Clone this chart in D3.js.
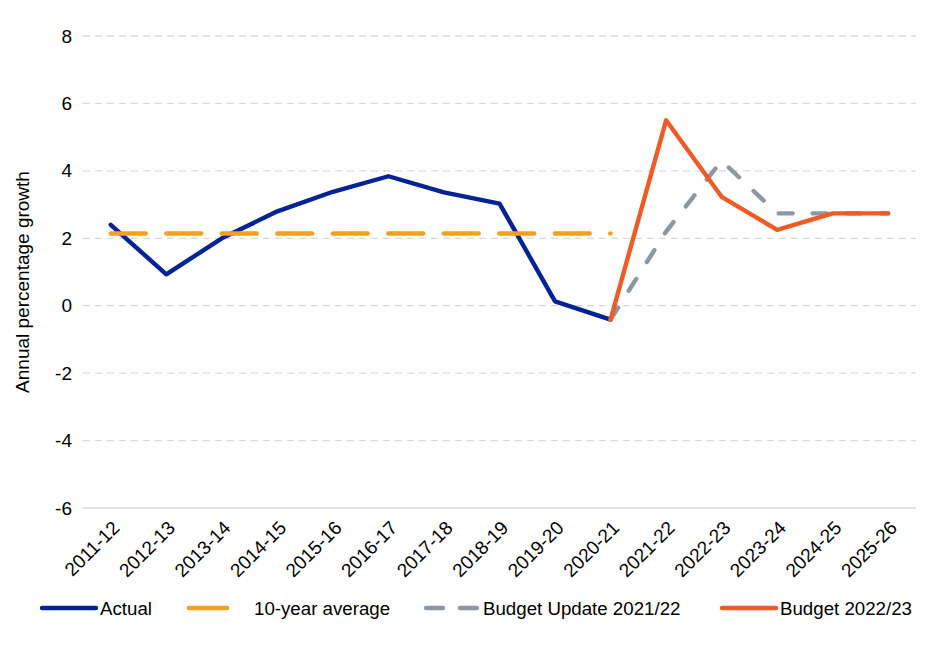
<!DOCTYPE html>
<html>
<head>
<meta charset="utf-8">
<script src="https://cdn.jsdelivr.net/npm/d3@7"></script>
<style>
	body { margin: 0; background: #fff; }
	text { font-family: "Liberation Sans", Arial, sans-serif; fill: #000; }
</style>
</head>
<body>
<div id="chart"></div>
<script>
"use strict";

// Chart data
var categories = ["2011-12", "2012-13", "2013-14", "2014-15", "2015-16", "2016-17", "2017-18",
	"2018-19", "2019-20", "2020-21", "2021-22", "2022-23", "2023-24", "2024-25", "2025-26"];
var actual = [2.4, 0.93, 2.0, 2.8, 3.38, 3.84, 3.36, 3.03, 0.13, -0.41,
	null, null, null, null, null];
var tenYearAverage = [2.14, 2.14, 2.14, 2.14, 2.14, 2.14, 2.14, 2.14, 2.14, 2.14,
	null, null, null, null, null];
var budgetUpdate = [null, null, null, null, null, null, null, null, null, -0.41,
	2.2, 4.3, 2.74, 2.74, 2.74];
var budget2223 = [null, null, null, null, null, null, null, null, null, -0.41,
	5.5, 3.23, 2.25, 2.74, 2.74];
var yTicks = [-6, -4, -2, 0, 2, 4, 6, 8];
var yTitle = "Annual percentage growth";

var series = [
	{name: "Actual", values: actual, color: "#002395", dash: null},
	{name: "10-year average", values: tenYearAverage, color: "#F5A01E", dash: "35,20.5"},
	{name: "Budget Update 2021/22", values: budgetUpdate, color: "#8D97A1", dash: "14,20"},
	{name: "Budget 2022/23", values: budget2223, color: "#F05A24", dash: null}
];

var width = 940;
var height = 651;
var plot = {left: 83, right: 916, top: 36, bottom: 508};

var svg = d3.select("#chart").append("svg")
	.attr("width", width)
	.attr("height", height);

var scaleX = d3.scaleBand()
	.domain(categories)
	.range([plot.left, plot.right]);

var scaleY = d3.scaleLinear()
	.domain([-6, 8])
	.range([plot.bottom, plot.top]);

// gridlines
svg.append("g")
	.attr("class", "grid")
	.selectAll("line")
	.data(yTicks)
	.enter().append("line")
	.attr("x1", plot.left)
	.attr("x2", plot.right)
	.attr("y1", function(d) { return scaleY(d); })
	.attr("y2", function(d) { return scaleY(d); })
	.attr("stroke", "#D9D9D9")
	.attr("stroke-width", 1.3)
	.attr("stroke-dasharray", function(d) { return d === -6 ? null : "7,5"; });

// y axis labels (plain hyphen for negatives, as in the original)
var yAxis = d3.axisLeft(scaleY)
	.tickValues(yTicks)
	.tickFormat(function(d) { return String(d); })
	.tickSize(0)
	.tickPadding(11);

svg.append("g")
	.attr("transform", "translate(" + plot.left + ",0)")
	.call(yAxis)
	.call(function(g) { g.select(".domain").remove(); })
	.selectAll("text")
	.attr("font-family", "Liberation Sans, Arial, sans-serif")
	.attr("font-size", "19px")
	.attr("fill", "#000");

svg.append("text")
	.attr("transform", "translate(29," + ((plot.top + plot.bottom) / 2 + 10) + ") rotate(-90)")
	.attr("text-anchor", "middle")
	.style("font-size", "19px")
	.text(yTitle);

// x axis labels
var xAxis = d3.axisBottom(scaleX)
	.tickSize(0)
	.tickPadding(0);

svg.append("g")
	.attr("transform", "translate(0," + plot.bottom + ")")
	.call(xAxis)
	.call(function(g) { g.select(".domain").remove(); })
	.selectAll("text")
	.attr("font-family", "Liberation Sans, Arial, sans-serif")
	.attr("font-size", "19px")
	.attr("fill", "#000")
	.attr("text-anchor", "end")
	.attr("y", 0)
	.attr("dy", 0)
	.attr("transform", "translate(10,21) rotate(-45)");

// lines
var lineFunc = d3.line()
	.defined(function(d) { return d !== null; })
	.x(function(d, i) { return scaleX(categories[i]) + scaleX.bandwidth() / 2; })
	.y(function(d) { return scaleY(d); });

svg.append("g")
	.selectAll("path")
	.data(series)
	.enter().append("path")
	.attr("d", function(d) { return lineFunc(d.values); })
	.attr("fill", "none")
	.attr("stroke", function(d) { return d.color; })
	.attr("stroke-width", 4.4)
	.attr("stroke-linejoin", "round")
	.attr("stroke-linecap", "round")
	.attr("stroke-dasharray", function(d) { return d.dash; });

// legend
var legendY = 608;
var legendPos = [{x: 42, tx: 100}, {x: 189, tx: 254}, {x: 426, tx: 483}, {x: 722, tx: 780}];
var legend = svg.append("g")
	.selectAll("g")
	.data(series)
	.enter().append("g");

legend.append("line")
	.attr("x1", function(d, i) { return legendPos[i].x; })
	.attr("x2", function(d, i) { return legendPos[i].x + 54; })
	.attr("y1", legendY)
	.attr("y2", legendY)
	.attr("stroke", function(d) { return d.color; })
	.attr("stroke-width", 4.4)
	.attr("stroke-linecap", "round")
	.attr("stroke-dasharray", function(d, i) { return i === 1 ? "38,40" : (i === 2 ? "17,17" : null); });

legend.append("text")
	.attr("x", function(d, i) { return legendPos[i].tx; })
	.attr("y", legendY + 6.5)
	.style("font-size", "18.7px")
	.text(function(d) { return d.name; });
</script>
</body>
</html>
